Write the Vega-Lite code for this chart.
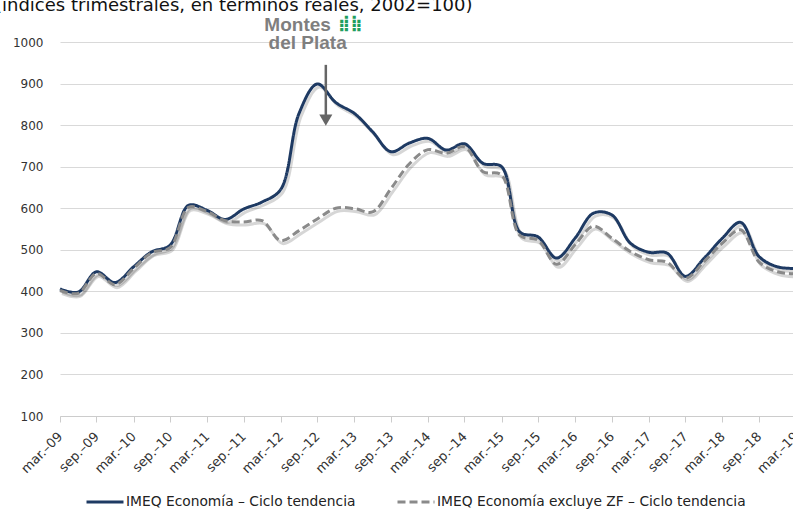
{
  "$schema": "https://vega.github.io/schema/vega-lite/v6.json",
  "width": 733,
  "height": 374,
  "autosize": {"type": "none"},
  "padding": {"left": 60, "top": 42, "right": 0, "bottom": 93},
  "background": "white",
  "title": {
    "text": "(índices trimestrales, en términos reales, 2002=100)",
    "anchor": "start",
    "frame": "group",
    "font": "DejaVu Sans",
    "fontSize": 18,
    "fontWeight": "normal",
    "color": "#111111",
    "dx": -65,
    "dy": 0,
    "offset": 0
  },
  "config": {
    "view": {"stroke": null},
    "font": "DejaVu Sans"
  },
  "datasets": {
    "series": [
      {"q": "2009-01-01T00:00:00", "serie": "IMEQ Economía – Ciclo tendencia", "v": 406},
      {"q": "2009-04-01T00:00:00", "serie": "IMEQ Economía – Ciclo tendencia", "v": 398},
      {"q": "2009-07-01T00:00:00", "serie": "IMEQ Economía – Ciclo tendencia", "v": 447},
      {"q": "2009-10-01T00:00:00", "serie": "IMEQ Economía – Ciclo tendencia", "v": 421},
      {"q": "2010-01-01T00:00:00", "serie": "IMEQ Economía – Ciclo tendencia", "v": 459},
      {"q": "2010-04-01T00:00:00", "serie": "IMEQ Economía – Ciclo tendencia", "v": 495},
      {"q": "2010-07-01T00:00:00", "serie": "IMEQ Economía – Ciclo tendencia", "v": 511},
      {"q": "2010-10-01T00:00:00", "serie": "IMEQ Economía – Ciclo tendencia", "v": 607},
      {"q": "2011-01-01T00:00:00", "serie": "IMEQ Economía – Ciclo tendencia", "v": 595},
      {"q": "2011-04-01T00:00:00", "serie": "IMEQ Economía – Ciclo tendencia", "v": 573},
      {"q": "2011-07-01T00:00:00", "serie": "IMEQ Economía – Ciclo tendencia", "v": 598},
      {"q": "2011-10-01T00:00:00", "serie": "IMEQ Economía – Ciclo tendencia", "v": 615},
      {"q": "2012-01-01T00:00:00", "serie": "IMEQ Economía – Ciclo tendencia", "v": 645},
      {"q": "2012-04-01T00:00:00", "serie": "IMEQ Economía – Ciclo tendencia", "v": 828},
      {"q": "2012-07-01T00:00:00", "serie": "IMEQ Economía – Ciclo tendencia", "v": 899},
      {"q": "2012-10-01T00:00:00", "serie": "IMEQ Economía – Ciclo tendencia", "v": 854},
      {"q": "2013-01-01T00:00:00", "serie": "IMEQ Economía – Ciclo tendencia", "v": 828},
      {"q": "2013-04-01T00:00:00", "serie": "IMEQ Economía – Ciclo tendencia", "v": 784},
      {"q": "2013-07-01T00:00:00", "serie": "IMEQ Economía – Ciclo tendencia", "v": 736},
      {"q": "2013-10-01T00:00:00", "serie": "IMEQ Economía – Ciclo tendencia", "v": 757},
      {"q": "2014-01-01T00:00:00", "serie": "IMEQ Economía – Ciclo tendencia", "v": 768},
      {"q": "2014-04-01T00:00:00", "serie": "IMEQ Economía – Ciclo tendencia", "v": 740},
      {"q": "2014-07-01T00:00:00", "serie": "IMEQ Economía – Ciclo tendencia", "v": 755},
      {"q": "2014-10-01T00:00:00", "serie": "IMEQ Economía – Ciclo tendencia", "v": 708},
      {"q": "2015-01-01T00:00:00", "serie": "IMEQ Economía – Ciclo tendencia", "v": 700},
      {"q": "2015-04-01T00:00:00", "serie": "IMEQ Economía – Ciclo tendencia", "v": 543},
      {"q": "2015-07-01T00:00:00", "serie": "IMEQ Economía – Ciclo tendencia", "v": 531},
      {"q": "2015-10-01T00:00:00", "serie": "IMEQ Economía – Ciclo tendencia", "v": 480},
      {"q": "2016-01-01T00:00:00", "serie": "IMEQ Economía – Ciclo tendencia", "v": 528},
      {"q": "2016-04-01T00:00:00", "serie": "IMEQ Economía – Ciclo tendencia", "v": 588},
      {"q": "2016-07-01T00:00:00", "serie": "IMEQ Economía – Ciclo tendencia", "v": 584},
      {"q": "2016-10-01T00:00:00", "serie": "IMEQ Economía – Ciclo tendencia", "v": 516},
      {"q": "2017-01-01T00:00:00", "serie": "IMEQ Economía – Ciclo tendencia", "v": 494},
      {"q": "2017-04-01T00:00:00", "serie": "IMEQ Economía – Ciclo tendencia", "v": 492},
      {"q": "2017-07-01T00:00:00", "serie": "IMEQ Economía – Ciclo tendencia", "v": 436},
      {"q": "2017-10-01T00:00:00", "serie": "IMEQ Economía – Ciclo tendencia", "v": 479},
      {"q": "2018-01-01T00:00:00", "serie": "IMEQ Economía – Ciclo tendencia", "v": 528},
      {"q": "2018-04-01T00:00:00", "serie": "IMEQ Economía – Ciclo tendencia", "v": 566},
      {"q": "2018-07-01T00:00:00", "serie": "IMEQ Economía – Ciclo tendencia", "v": 484},
      {"q": "2018-10-01T00:00:00", "serie": "IMEQ Economía – Ciclo tendencia", "v": 459},
      {"q": "2019-01-01T00:00:00", "serie": "IMEQ Economía – Ciclo tendencia", "v": 455},
      {"q": "2009-01-01T00:00:00", "serie": "IMEQ Economía excluye ZF – Ciclo tendencia", "v": 402},
      {"q": "2009-04-01T00:00:00", "serie": "IMEQ Economía excluye ZF – Ciclo tendencia", "v": 395},
      {"q": "2009-07-01T00:00:00", "serie": "IMEQ Economía excluye ZF – Ciclo tendencia", "v": 443},
      {"q": "2009-10-01T00:00:00", "serie": "IMEQ Economía excluye ZF – Ciclo tendencia", "v": 416},
      {"q": "2010-01-01T00:00:00", "serie": "IMEQ Economía excluye ZF – Ciclo tendencia", "v": 455},
      {"q": "2010-04-01T00:00:00", "serie": "IMEQ Economía excluye ZF – Ciclo tendencia", "v": 493},
      {"q": "2010-07-01T00:00:00", "serie": "IMEQ Economía excluye ZF – Ciclo tendencia", "v": 505},
      {"q": "2010-10-01T00:00:00", "serie": "IMEQ Economía excluye ZF – Ciclo tendencia", "v": 602},
      {"q": "2011-01-01T00:00:00", "serie": "IMEQ Economía excluye ZF – Ciclo tendencia", "v": 592},
      {"q": "2011-04-01T00:00:00", "serie": "IMEQ Economía excluye ZF – Ciclo tendencia", "v": 570},
      {"q": "2011-07-01T00:00:00", "serie": "IMEQ Economía excluye ZF – Ciclo tendencia", "v": 567},
      {"q": "2011-10-01T00:00:00", "serie": "IMEQ Economía excluye ZF – Ciclo tendencia", "v": 570},
      {"q": "2012-01-01T00:00:00", "serie": "IMEQ Economía excluye ZF – Ciclo tendencia", "v": 522},
      {"q": "2012-04-01T00:00:00", "serie": "IMEQ Economía excluye ZF – Ciclo tendencia", "v": 546},
      {"q": "2012-07-01T00:00:00", "serie": "IMEQ Economía excluye ZF – Ciclo tendencia", "v": 574},
      {"q": "2012-10-01T00:00:00", "serie": "IMEQ Economía excluye ZF – Ciclo tendencia", "v": 600},
      {"q": "2013-01-01T00:00:00", "serie": "IMEQ Economía excluye ZF – Ciclo tendencia", "v": 599},
      {"q": "2013-04-01T00:00:00", "serie": "IMEQ Economía excluye ZF – Ciclo tendencia", "v": 591},
      {"q": "2013-07-01T00:00:00", "serie": "IMEQ Economía excluye ZF – Ciclo tendencia", "v": 647},
      {"q": "2013-10-01T00:00:00", "serie": "IMEQ Economía excluye ZF – Ciclo tendencia", "v": 707},
      {"q": "2014-01-01T00:00:00", "serie": "IMEQ Economía excluye ZF – Ciclo tendencia", "v": 741},
      {"q": "2014-04-01T00:00:00", "serie": "IMEQ Economía excluye ZF – Ciclo tendencia", "v": 732},
      {"q": "2014-07-01T00:00:00", "serie": "IMEQ Economía excluye ZF – Ciclo tendencia", "v": 748},
      {"q": "2014-10-01T00:00:00", "serie": "IMEQ Economía excluye ZF – Ciclo tendencia", "v": 688},
      {"q": "2015-01-01T00:00:00", "serie": "IMEQ Economía excluye ZF – Ciclo tendencia", "v": 680},
      {"q": "2015-04-01T00:00:00", "serie": "IMEQ Economía excluye ZF – Ciclo tendencia", "v": 535},
      {"q": "2015-07-01T00:00:00", "serie": "IMEQ Economía excluye ZF – Ciclo tendencia", "v": 523},
      {"q": "2015-10-01T00:00:00", "serie": "IMEQ Economía excluye ZF – Ciclo tendencia", "v": 465},
      {"q": "2016-01-01T00:00:00", "serie": "IMEQ Economía excluye ZF – Ciclo tendencia", "v": 512},
      {"q": "2016-04-01T00:00:00", "serie": "IMEQ Economía excluye ZF – Ciclo tendencia", "v": 557},
      {"q": "2016-07-01T00:00:00", "serie": "IMEQ Economía excluye ZF – Ciclo tendencia", "v": 528},
      {"q": "2016-10-01T00:00:00", "serie": "IMEQ Economía excluye ZF – Ciclo tendencia", "v": 496},
      {"q": "2017-01-01T00:00:00", "serie": "IMEQ Economía excluye ZF – Ciclo tendencia", "v": 476},
      {"q": "2017-04-01T00:00:00", "serie": "IMEQ Economía excluye ZF – Ciclo tendencia", "v": 470},
      {"q": "2017-07-01T00:00:00", "serie": "IMEQ Economía excluye ZF – Ciclo tendencia", "v": 431},
      {"q": "2017-10-01T00:00:00", "serie": "IMEQ Economía excluye ZF – Ciclo tendencia", "v": 471},
      {"q": "2018-01-01T00:00:00", "serie": "IMEQ Economía excluye ZF – Ciclo tendencia", "v": 516},
      {"q": "2018-04-01T00:00:00", "serie": "IMEQ Economía excluye ZF – Ciclo tendencia", "v": 548},
      {"q": "2018-07-01T00:00:00", "serie": "IMEQ Economía excluye ZF – Ciclo tendencia", "v": 471},
      {"q": "2018-10-01T00:00:00", "serie": "IMEQ Economía excluye ZF – Ciclo tendencia", "v": 447},
      {"q": "2019-01-01T00:00:00", "serie": "IMEQ Economía excluye ZF – Ciclo tendencia", "v": 442}
    ],
    "arrow": [
      {"q": "2012-08-12T00:00:00", "top": 945, "bottom": 820, "head": 812}
    ],
    "logo": [
      {"q": "2012-03-25T00:00:00", "v": 1041, "label": "Montes"},
      {"q": "2012-05-14T00:00:00", "v": 998, "label": "del Plata"}
    ],
    "icon": [
      {"q": "2012-12-13T00:00:00", "v": 1046, "label": "⣾⣷"}
    ]
  },
  "layer": [
    {
      "data": {"name": "series"},
      "mark": {"type": "line", "interpolate": "catmull-rom", "strokeWidth": 3, "color": "#000000", "opacity": 0.16, "xOffset": 2, "yOffset": 3},
      "encoding": {
        "x": {
          "field": "q",
          "type": "temporal",
          "scale": {
            "domain": [{"year": 2009, "month": 1, "date": 1}, {"year": 2019, "month": 1, "date": 1}],
            "range": [0, 736],
            "nice": false
          },
          "axis": {
            "title": null,
            "tickCount": {"interval": "month", "step": 6},
            "labelExpr": "(month(datum.value) == 0 ? 'mar.–' : 'sep.–') + timeFormat(datum.value, '%y')",
            "labelAngle": -45,
            "labelAlign": "right",
            "labelBaseline": "middle",
            "labelFont": "DejaVu Sans",
            "labelFontSize": 13,
            "labelColor": "#333333",
            "labelPadding": 12,
            "labelOverlap": false,
            "labelBound": false,
            "labelFlush": false,
            "domainColor": "#cccccc",
            "domainWidth": 1,
            "tickColor": "#cccccc",
            "tickSize": 6,
            "grid": false
          }
        },
        "y": {
          "field": "v",
          "type": "quantitative",
          "scale": {"domain": [100, 1000], "nice": false, "zero": false},
          "axis": {
            "title": null,
            "values": [100, 200, 300, 400, 500, 600, 700, 800, 900, 1000],
            "format": "d",
            "domain": false,
            "ticks": false,
            "labelPadding": 17,
            "labelFont": "DejaVu Sans",
            "labelFontSize": 12,
            "labelColor": "#333333",
            "gridColor": "#d9d9d9",
            "gridWidth": 1
          }
        },
        "detail": {"field": "serie"}
      }
    },
    {
      "data": {"name": "series"},
      "mark": {"type": "line", "interpolate": "catmull-rom", "strokeWidth": 3},
      "encoding": {
        "x": {"field": "q", "type": "temporal"},
        "y": {"field": "v", "type": "quantitative"},
        "color": {
          "field": "serie",
          "type": "nominal",
          "sort": null,
          "scale": {
            "domain": ["IMEQ Economía – Ciclo tendencia", "IMEQ Economía excluye ZF – Ciclo tendencia"],
            "range": ["#1e3a63", "#8a8a8a"]
          },
          "legend": {
            "title": null,
            "orient": "none",
            "direction": "horizontal",
            "legendX": 25,
            "legendY": 440,
            "symbolType": "stroke",
            "symbolSize": 1369,
            "symbolStrokeWidth": 3,
            "labelFont": "DejaVu Sans",
            "labelFontSize": 13.8,
            "labelColor": "#222222",
            "labelOffset": 1,
            "labelLimit": 400,
            "columnPadding": 35
          }
        },
        "strokeDash": {
          "field": "serie",
          "type": "nominal",
          "sort": null,
          "scale": {
            "domain": ["IMEQ Economía – Ciclo tendencia", "IMEQ Economía excluye ZF – Ciclo tendencia"],
            "range": [[1, 0], [8, 4]]
          },
          "legend": {
            "title": null,
            "orient": "none",
            "direction": "horizontal",
            "legendX": 25,
            "legendY": 440,
            "symbolType": "stroke",
            "symbolSize": 1369,
            "symbolStrokeWidth": 3,
            "labelFont": "DejaVu Sans",
            "labelFontSize": 13.8,
            "labelColor": "#222222",
            "labelOffset": 1,
            "labelLimit": 400,
            "columnPadding": 35
          }
        }
      }
    },
    {
      "data": {"name": "arrow"},
      "mark": {"type": "rule", "color": "#666666", "strokeWidth": 2.5},
      "encoding": {
        "x": {"field": "q", "type": "temporal"},
        "y": {"field": "top", "type": "quantitative"},
        "y2": {"field": "bottom"}
      }
    },
    {
      "data": {"name": "arrow"},
      "mark": {"type": "point", "shape": "triangle-down", "filled": true, "color": "#666666", "opacity": 1, "size": 170},
      "encoding": {
        "x": {"field": "q", "type": "temporal"},
        "y": {"field": "head", "type": "quantitative"}
      }
    },
    {
      "data": {"name": "logo"},
      "mark": {"type": "text", "font": "Liberation Sans", "fontSize": 19, "fontWeight": "bold", "color": "#7f7f7f", "align": "center", "baseline": "middle"},
      "encoding": {
        "x": {"field": "q", "type": "temporal"},
        "y": {"field": "v", "type": "quantitative"},
        "text": {"field": "label"}
      }
    },
    {
      "data": {"name": "icon"},
      "mark": {"type": "text", "font": "DejaVu Sans", "fontSize": 16, "fontWeight": "bold", "color": "#1f9e5f", "align": "center", "baseline": "middle"},
      "encoding": {
        "x": {"field": "q", "type": "temporal"},
        "y": {"field": "v", "type": "quantitative"},
        "text": {"field": "label"}
      }
    }
  ]
}
